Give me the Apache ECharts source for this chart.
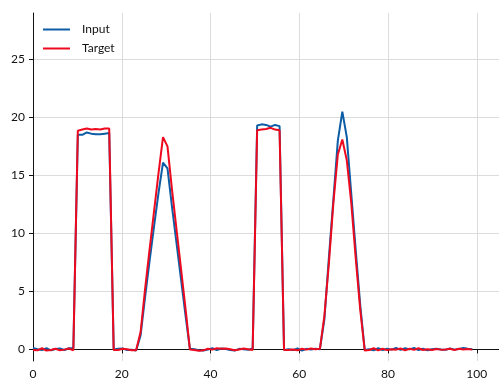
<!DOCTYPE html>
<html>
<head>
<meta charset="utf-8">
<script src="https://cdn.jsdelivr.net/npm/echarts@6/dist/echarts.min.js"></script>
<style>
  html, body { margin: 0; padding: 0; background: #fff; }
  #chart { width: 499px; height: 381px; }
</style>
</head>
<body>
<div id="chart"></div>
<script>
// Sample positions: 100 samples spread evenly over 0..100
const sampleCount = 100;

// Input signal
const inputValues = [
  0.12, 0.02, -0.06, 0.10, -0.08, 0.04, 0.08, -0.05, 0.10, 0.12,
  18.50, 18.50, 18.70, 18.60, 18.55, 18.55, 18.60, 18.65,
  0.00, 0.05, 0.08, -0.05, -0.02, -0.10,
  1.20, 4.50, 7.60, 10.60, 13.50, 16.10, 15.60, 12.30, 9.20, 6.10, 3.00,
  0.05, 0.02, -0.08, -0.10, -0.02, 0.10, -0.05, 0.08, 0.04, -0.06, -0.10, 0.05, 0.02, -0.04, 0.08,
  19.30, 19.40, 19.35, 19.20, 19.35, 19.25,
  -0.05, 0.02, -0.06, 0.08, -0.10, 0.05, 0.00, 0.06, 0.02,
  2.60, 7.90, 12.90, 18.00, 20.50, 18.30, 13.40, 8.50, 3.80,
  -0.05, 0.02, -0.08, 0.10, -0.05, 0.06, -0.02, 0.12, -0.04, 0.10, 0.00, 0.12, -0.06, 0.05,
  -0.08, 0.02, 0.06, 0.00, -0.04, 0.08, -0.02, 0.04, 0.12, 0.06, 0.02
];

// Target signal
const targetValues = [
  -0.05, -0.08, 0.10, -0.10, -0.05, 0.05, -0.08, -0.02, 0.08, -0.08,
  18.85, 18.95, 19.05, 18.95, 19.00, 18.95, 19.05, 19.05,
  -0.05, -0.05, 0.05, 0.02, -0.08, -0.08,
  1.50, 5.20, 8.60, 11.90, 15.20, 18.30, 17.50, 13.80, 10.40, 7.00, 3.60,
  0.00, -0.05, -0.12, -0.08, 0.05, -0.02, 0.10, 0.06, 0.08, 0.02, -0.08, 0.00, 0.08, 0.02, -0.05,
  18.90, 18.95, 19.00, 19.10, 18.95, 18.90,
  -0.05, -0.05, 0.00, -0.08, 0.05, -0.02, 0.08, 0.02, 0.05,
  2.90, 7.40, 12.60, 16.80, 18.10, 16.30, 12.60, 7.80, 3.40,
  -0.10, -0.05, 0.10, -0.08, 0.05, -0.06, 0.02, -0.02, 0.08, -0.08, 0.06, -0.04, 0.10, -0.05,
  0.02, -0.05, 0.04, -0.02, 0.00, 0.06, -0.05, 0.05, 0.00, 0.04, -0.02
];

const xTicks = [0, 20, 40, 60, 80, 100];
const yTicks = [0, 5, 10, 15, 20, 25];

const seriesNames = ['Input', 'Target'];
const seriesColors = ['#0C5DA5', '#EE0A1E'];

const xs = Array.from({ length: sampleCount }, (_, i) => i * 100 / (sampleCount - 1));
const toPairs = vals => vals.map((v, i) => [xs[i], v]);

const font = 'Lato, "DejaVu Sans", sans-serif';
const chart = echarts.init(document.getElementById('chart'));

chart.setOption({
  animation: false,
  backgroundColor: '#ffffff',
  grid: { left: 33, right: 0, top: 13, bottom: 20, containLabel: false },
  legend: {
    orient: 'vertical',
    left: 38,
    top: 17,
    icon: 'rect',
    itemWidth: 27,
    itemHeight: 2,
    itemGap: 4,
    data: seriesNames,
    textStyle: { fontFamily: font, fontSize: 12, color: '#111', padding: [0, 0, 0, 7], lineHeight: 15 }
  },
  xAxis: {
    type: 'value',
    min: 0,
    max: 105,
    axisLine: { show: true, lineStyle: { color: '#111', width: 1 } },
    axisTick: { show: true, customValues: xTicks, length: 4, lineStyle: { color: '#111' } },
    axisLabel: { customValues: xTicks, fontFamily: font, fontSize: 12, color: '#111', margin: 7 },
    splitLine: { show: true, lineStyle: { color: '#dcdcdc', width: 1 } }
  },
  yAxis: {
    type: 'value',
    min: -1,
    max: 29,
    axisLine: { show: true, lineStyle: { color: '#111', width: 1 } },
    axisTick: { show: true, customValues: yTicks, length: 4, lineStyle: { color: '#111' } },
    axisLabel: { customValues: yTicks, fontFamily: font, fontSize: 12, color: '#111', margin: 8 },
    splitLine: { show: true, lineStyle: { color: '#dcdcdc', width: 1 } }
  },
  series: seriesNames.map((name, k) => ({
    name,
    type: 'line',
    symbol: 'none',
    data: toPairs(k === 0 ? inputValues : targetValues),
    lineStyle: { color: seriesColors[k], width: 2 },
    itemStyle: { color: seriesColors[k] },
    z: 2 + k
  }))
});
</script>
</body>
</html>
